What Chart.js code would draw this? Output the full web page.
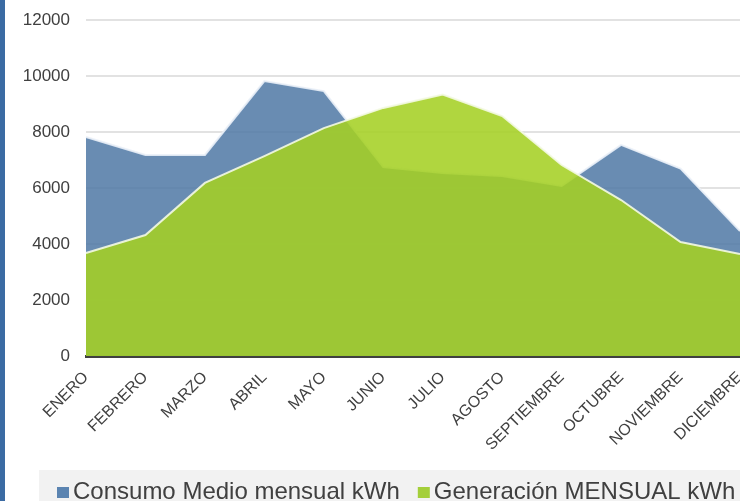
<!DOCTYPE html>
<html>
<head>
<meta charset="utf-8">
<script src="https://cdn.jsdelivr.net/npm/chart.js@4"></script>
<style>
  html, body { margin: 0; padding: 0; background: #fff; }
  #wrap { width: 740px; height: 501px; position: relative; }
</style>
</head>
<body>
<div id="wrap"><canvas id="chart"></canvas></div>
<script>
// meses (eje X)
const months = ['ENERO', 'FEBRERO', 'MARZO', 'ABRIL', 'MAYO', 'JUNIO', 'JULIO',
  'AGOSTO', 'SEPTIEMBRE', 'OCTUBRE', 'NOVIEMBRE', 'DICIEMBRE'];
// kWh
const consumo = [7820, 7180, 7180, 9820, 9460, 6750, 6540, 6430, 6070, 7540, 6690, 4460];
const generacion = [3680, 4320, 6180, 7140, 8140, 8860, 9340, 8570, 6820, 5570, 4070, 3640];
const seriesNames = ['Consumo Medio mensual kWh', 'Generación MENSUAL kWh'];
const yTicks = [0, 2000, 4000, 6000, 8000, 10000, 12000];

const textColor = '#404040';
const font = 'Liberation Sans, Arial, sans-serif';

// side bar + legend band drawn on the canvas
const frame = {
  id: 'frame',
  beforeDraw(chart) {
    const ctx = chart.ctx;
    ctx.save();
    ctx.fillStyle = '#3b6ba3';
    ctx.fillRect(0, 0, 5, chart.height);
    ctx.fillStyle = '#f2f2f2';
    ctx.fillRect(39, 470, chart.width - 39, 31);
    ctx.restore();
  },
  afterDraw(chart) {
    const ctx = chart.ctx;
    ctx.save();
    ctx.font = '24px ' + font;
    ctx.textBaseline = 'alphabetic';
    let x = 57;
    chart.data.datasets.forEach(ds => {
      ctx.fillStyle = ds.legendColor;
      ctx.fillRect(x, 487, 12, 11);
      ctx.fillStyle = textColor;
      ctx.fillText(ds.label, x + 16, 499);
      x += 16 + ctx.measureText(ds.label).width + 18;
    });
    ctx.restore();
  }
};

new Chart(document.getElementById('chart').getContext('2d'), {
  type: 'line',
  data: {
    labels: months,
    datasets: [
      {
        label: seriesNames[0], data: consumo, order: 1,
        backgroundColor: 'rgba(79,120,165,0.85)', legendColor: '#5b84b1',
        borderColor: 'rgba(235,241,248,0.9)', borderWidth: 2,
        pointRadius: 0, fill: 'origin', tension: 0,
      },
      {
        label: seriesNames[1], data: generacion, order: 0,
        backgroundColor: 'rgba(165,208,36,0.88)', legendColor: '#a4cf3a',
        borderColor: 'rgba(244,250,228,0.9)', borderWidth: 2,
        pointRadius: 0, fill: 'origin', tension: 0,
      },
    ],
  },
  options: {
    responsive: true, maintainAspectRatio: false, animation: false,
    layout: { padding: { left: 6, top: 20, right: 0, bottom: 0 } },
    plugins: { legend: { display: false }, tooltip: { enabled: false } },
    scales: {
      x: {
        offset: false,
        grid: { display: false },
        border: { color: '#404040', width: 3 },
        ticks: { color: textColor, font: { family: font, size: 16 }, minRotation: 45, maxRotation: 45, autoSkip: false, padding: 4 },
        afterFit: s => { s.height = 145; s.paddingRight = 0; },
      },
      y: {
        min: 0, max: 12000,
        afterBuildTicks: s => { s.ticks = yTicks.map(v => ({ value: v })); },
        grid: { color: '#e2e2e2', lineWidth: 2, drawTicks: false },
        border: { display: false },
        ticks: { color: textColor, font: { family: font, size: 17 }, padding: 16, callback: v => String(v) },
        afterFit: s => { s.width = 80; s.paddingTop = 0; s.paddingBottom = 0; },
      },
    },
  },
  plugins: [frame],
});
</script>
</body>
</html>
